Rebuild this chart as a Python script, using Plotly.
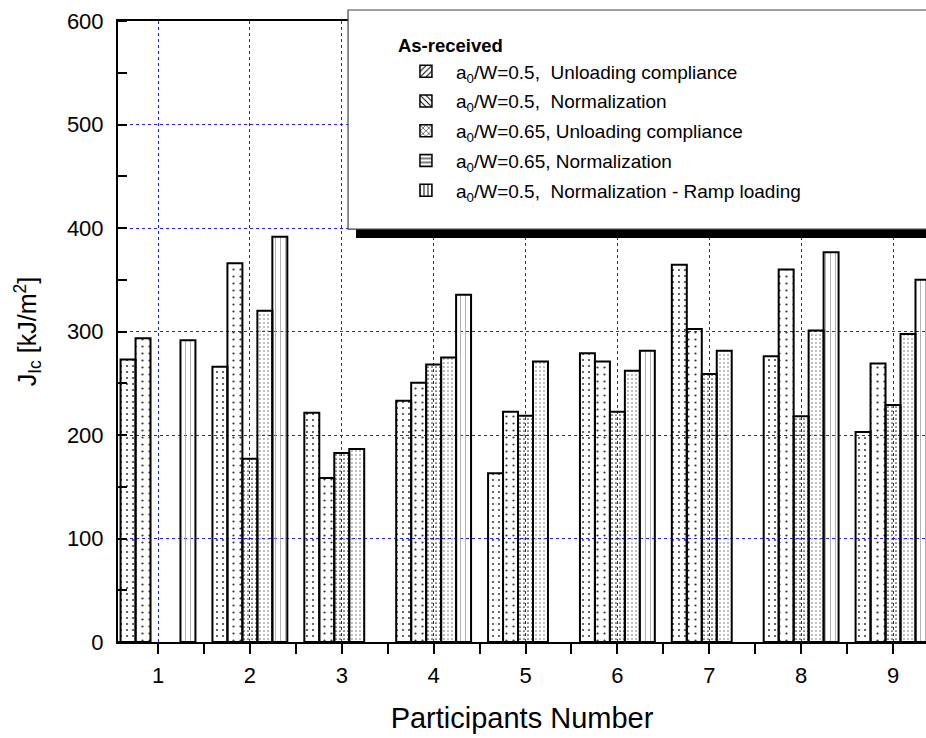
import plotly.graph_objects as go

# Participants and J_Ic results [kJ/m^2] per test condition
participants = [1, 2, 3, 4, 5, 6, 7, 8, 9]
uc_05 = [273, 266, 221.5, 233, 163, 279, 364.5, 276, 203]
norm_05 = [293.5, 366, 158.5, 250.5, 222.5, 271, 302.5, 360, 269]
uc_065 = [None, 177, 182.5, 268, 218.5, 222.5, 259, 218, 229]
norm_065 = [None, 320, 186.5, 275, 271, 262, 281.5, 301, 297.5]
ramp_05 = [291.5, 391.5, None, 335.5, None, 281.5, None, 376.5, 350]

series_names = [
    "a<sub>0</sub>/W=0.5,  Unloading compliance",
    "a<sub>0</sub>/W=0.5,  Normalization",
    "a<sub>0</sub>/W=0.65, Unloading compliance",
    "a<sub>0</sub>/W=0.65, Normalization",
    "a<sub>0</sub>/W=0.5,  Normalization - Ramp loading",
]
series_values = [uc_05, norm_05, uc_065, norm_065, ramp_05]

# fine dot fills used inside the bars
bar_patterns = [
    dict(shape=".", size=6, solidity=0.09, fgcolor="#333"),
    dict(shape=".", size=7, solidity=0.08, fgcolor="#333"),
    dict(shape=".", size=4, solidity=0.14, fgcolor="#333"),
    dict(shape=".", size=4, solidity=0.12, fgcolor="#666"),
    dict(shape="|", size=5, solidity=0.18, fgcolor="#aaa"),
]
# hatch fills shown in the legend
legend_patterns = ["/", "\\", "x", "-", "|"]

FONT = "Arial, 'Liberation Sans', sans-serif"

fig = go.Figure()

for i, (name, vals, pat) in enumerate(zip(series_names, series_values, bar_patterns)):
    fig.add_trace(go.Bar(
        x=participants, y=vals, name=name, showlegend=False, offsetgroup=str(i),
        marker=dict(color="black", line=dict(color="black", width=2),
                    pattern=dict(fillmode="replace", **pat)),
    ))

# legend entries with hatched swatches (share the slot of their series)
for i, (name, shp) in enumerate(zip(series_names, legend_patterns)):
    fig.add_trace(go.Bar(
        x=[None], y=[None], name=name, offsetgroup=str(i), legendgroup=f"g{i}",
        marker=dict(color="white", line=dict(color="black", width=1.5),
                    pattern=dict(shape=shp, fgcolor="black", bgcolor="white",
                                 size=5, solidity=0.25)),
    ))

grid_style = dict(showgrid=True, gridcolor="#2020ff", gridwidth=1, griddash="dot")

fig.update_layout(
    template="none",
    width=926, height=738,
    margin=dict(l=118, r=0, t=21, b=96),
    paper_bgcolor="white", plot_bgcolor="white",
    font=dict(family=FONT, color="black"),
    barmode="group", bargap=0.185, bargroupgap=0,
    # tick marks come from the minor ticks (every half step, pointing down);
    # the labelled ticks point the other way so both sets are kept
    xaxis=dict(
        range=[0.5646, 9.359], tickmode="array", tickvals=participants,
        showline=True, linewidth=2, linecolor="black", mirror=True,
        ticks="inside", ticklen=0, tickwidth=2, tickcolor="#000000",
        minor=dict(dtick=0.5, tick0=0.5, ticks="outside", ticklen=10, tickwidth=2,
                   tickcolor="#000000", showgrid=False),
        tickfont=dict(size=22), ticklabelstandoff=13, zeroline=False,
        title=dict(text="Participants Number", font=dict(size=29), standoff=20),
        **grid_style,
    ),
    yaxis=dict(
        range=[0, 600], tick0=0, dtick=100, showline=True, linewidth=2, linecolor="black",
        ticks="outside", ticklen=0, tickwidth=2, tickcolor="#000000",
        minor=dict(dtick=50, ticks="inside", ticklen=9, tickwidth=2,
                   tickcolor="#000000", showgrid=False),
        tickfont=dict(size=22), ticklabelstandoff=8, zeroline=False,
        title=dict(text="J<sub>Ic</sub> [kJ/m<sup>2</sup>]", font=dict(size=25), standoff=23),
        **grid_style,
    ),
    legend=dict(
        x=0.344, y=0.988, xanchor="left", yanchor="top",
        bgcolor="rgba(0,0,0,0)", borderwidth=0,
        font=dict(size=19, family=FONT),
        title=dict(text="<b>As-received</b>", font=dict(size=18.5, family=FONT)),
        traceorder="grouped", tracegroupgap=2, itemwidth=50,
    ),
    shapes=[
        # drop shadow behind the legend frame
        dict(type="rect", xref="paper", yref="paper", x0=0.2946, x1=1.05, y0=0.6506, y1=1.0,
             fillcolor="black", line=dict(width=0), layer="above"),
        # legend frame
        dict(type="rect", xref="paper", yref="paper", x0=0.2847, x1=1.05, y0=0.665, y1=1.0177,
             fillcolor="white", line=dict(color="#444", width=1.2), layer="above"),
    ],
)

fig.write_html("out.html")
